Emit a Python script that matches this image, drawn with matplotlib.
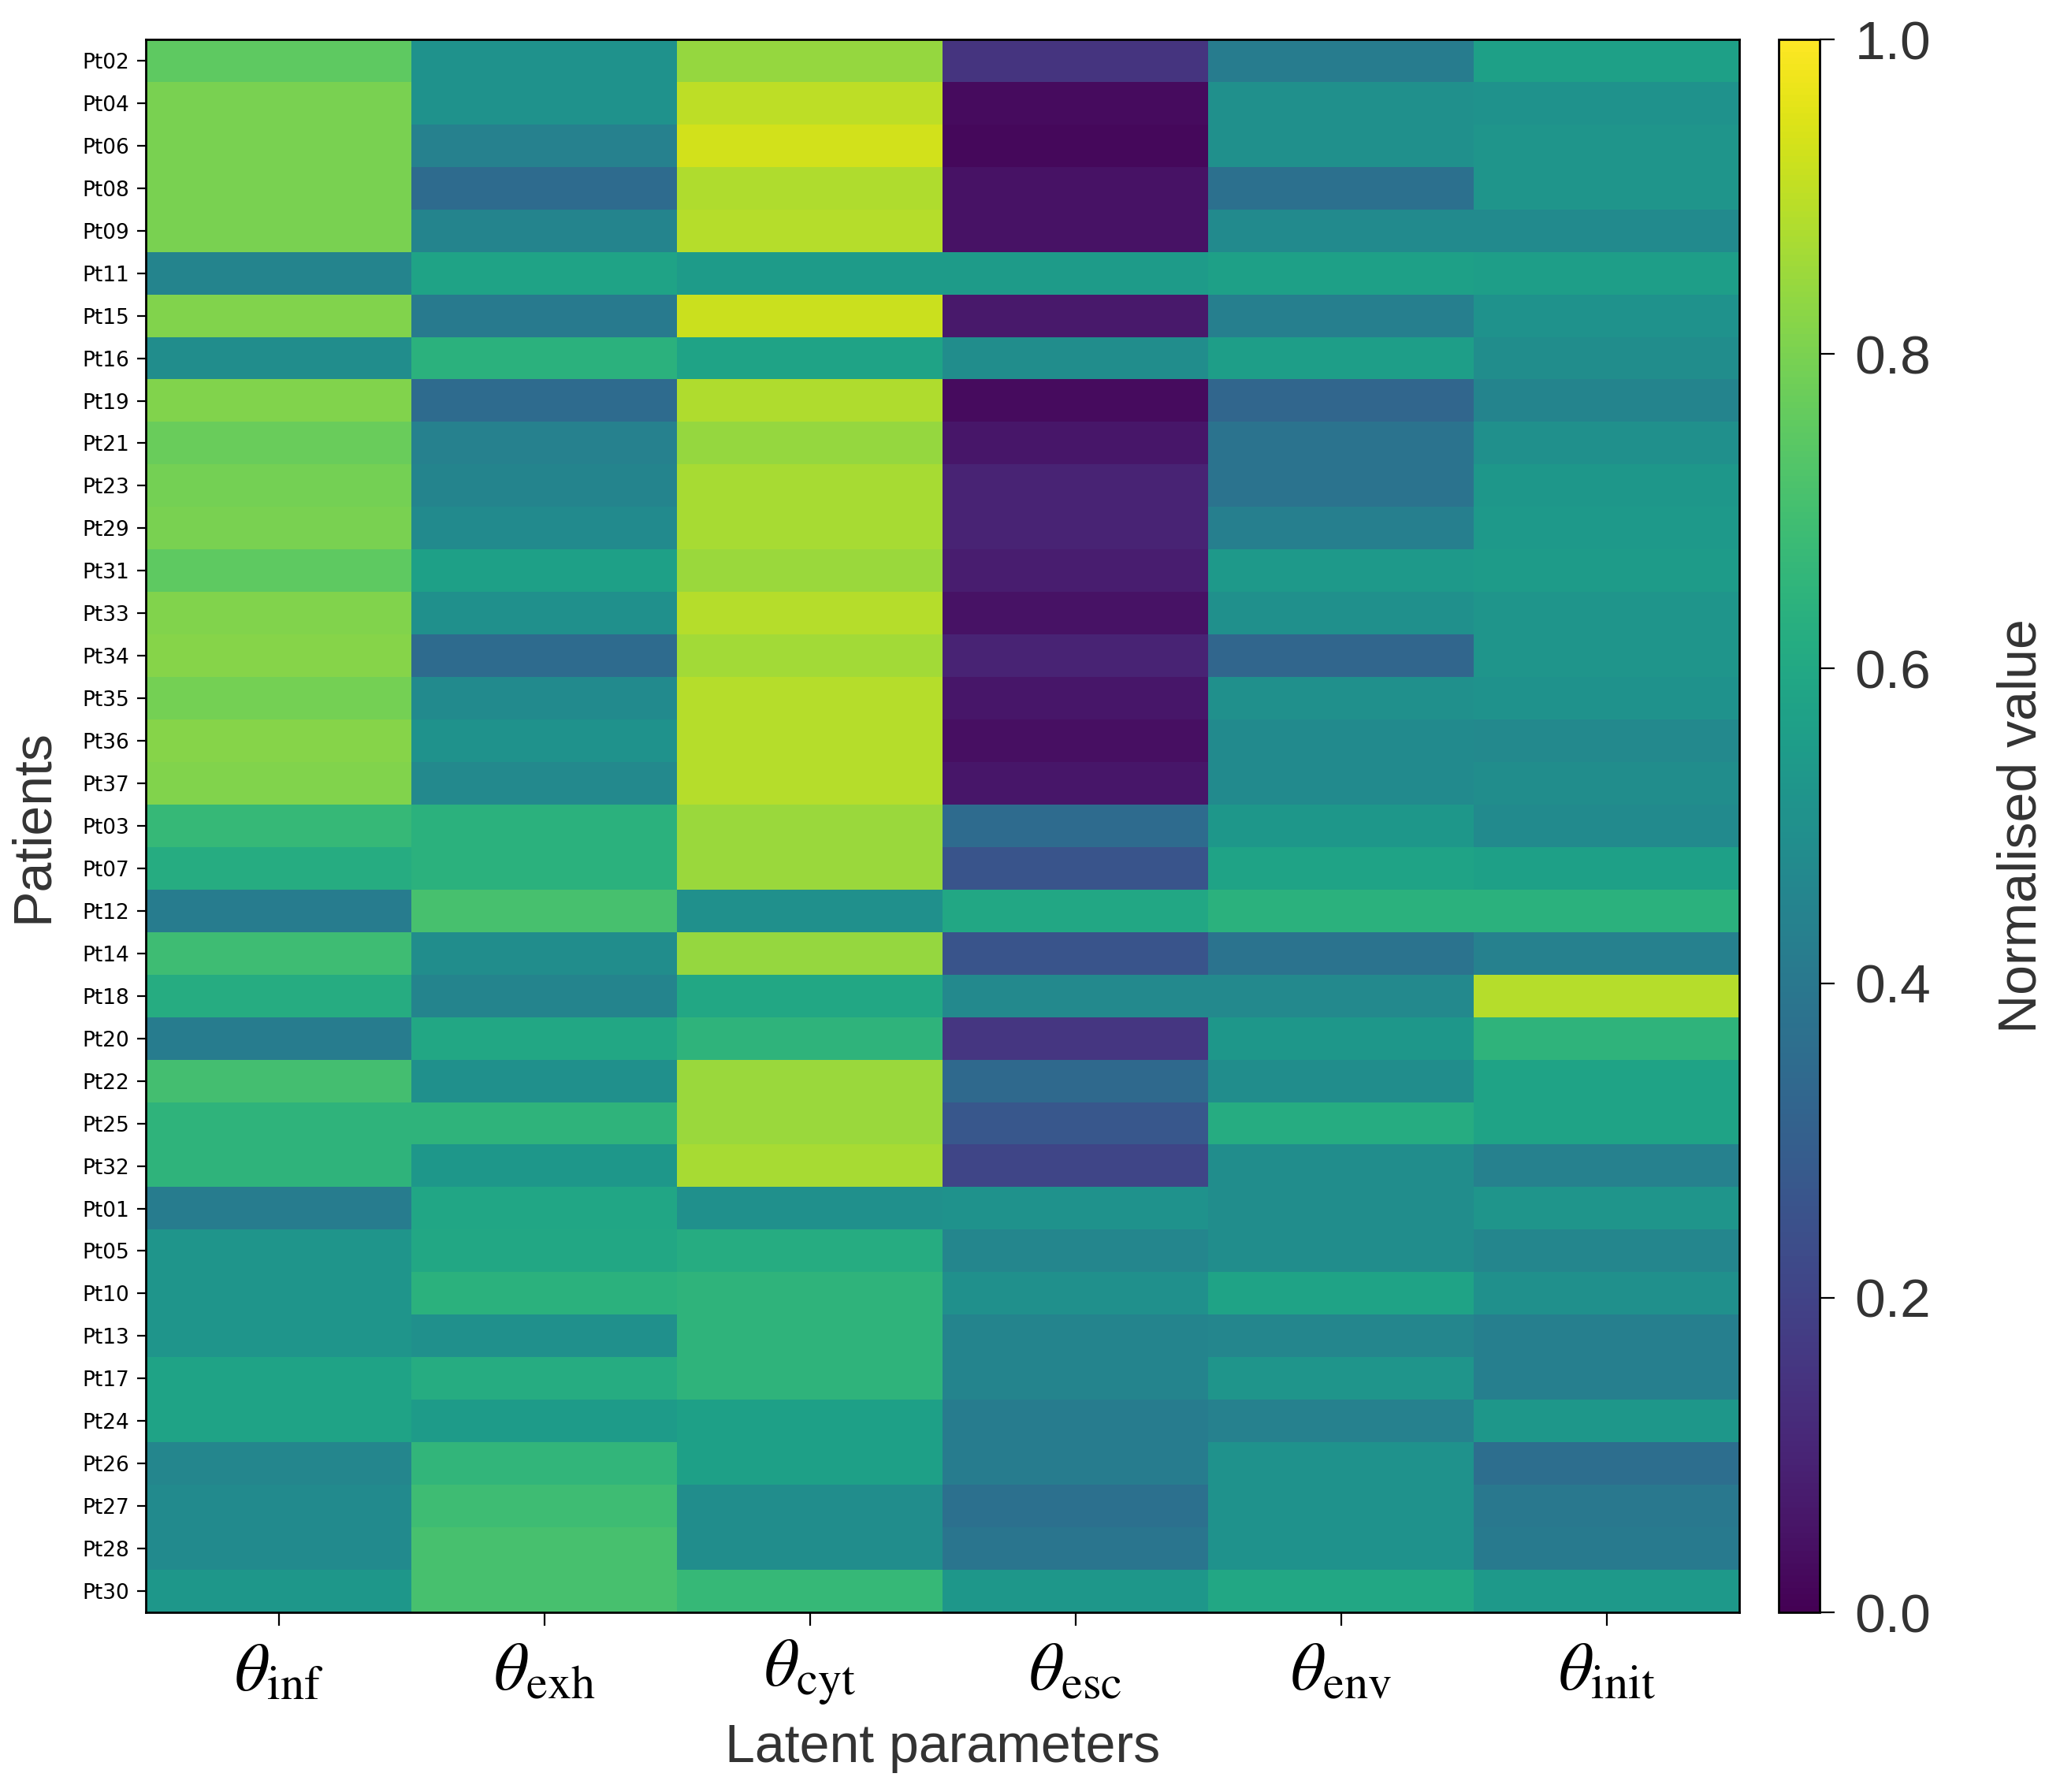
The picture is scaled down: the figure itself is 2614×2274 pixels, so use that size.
import numpy as np
import matplotlib
matplotlib.use("Agg")
import matplotlib.pyplot as plt

patients = ["Pt02", "Pt04", "Pt06", "Pt08", "Pt09", "Pt11", "Pt15", "Pt16", "Pt19",
            "Pt21", "Pt23", "Pt29", "Pt31", "Pt33", "Pt34", "Pt35", "Pt36", "Pt37",
            "Pt03", "Pt07", "Pt12", "Pt14", "Pt18", "Pt20", "Pt22", "Pt25", "Pt32",
            "Pt01", "Pt05", "Pt10", "Pt13", "Pt17", "Pt24", "Pt26", "Pt27", "Pt28", "Pt30"]

params = [r"$\theta_{\mathrm{inf}}$", r"$\theta_{\mathrm{exh}}$", r"$\theta_{\mathrm{cyt}}$",
          r"$\theta_{\mathrm{esc}}$", r"$\theta_{\mathrm{env}}$", r"$\theta_{\mathrm{init}}$"]

theta_inf = [0.75, 0.80, 0.80, 0.80, 0.80, 0.45, 0.81, 0.49, 0.81, 0.77, 0.79, 0.80, 0.75,
             0.81, 0.82, 0.79, 0.82, 0.81, 0.67, 0.62, 0.42, 0.69, 0.62, 0.42, 0.70, 0.65,
             0.65, 0.42, 0.52, 0.52, 0.52, 0.58, 0.58, 0.46, 0.48, 0.48, 0.53]
theta_exh = [0.51, 0.51, 0.44, 0.35, 0.45, 0.58, 0.41, 0.64, 0.35, 0.44, 0.45, 0.48, 0.57,
             0.50, 0.35, 0.48, 0.51, 0.47, 0.64, 0.64, 0.71, 0.49, 0.45, 0.60, 0.50, 0.65,
             0.53, 0.59, 0.60, 0.64, 0.50, 0.62, 0.55, 0.66, 0.69, 0.71, 0.71]
theta_cyt = [0.84, 0.90, 0.93, 0.88, 0.89, 0.55, 0.92, 0.58, 0.88, 0.84, 0.87, 0.87, 0.85,
             0.89, 0.86, 0.89, 0.89, 0.89, 0.85, 0.85, 0.50, 0.84, 0.60, 0.65, 0.85, 0.85,
             0.87, 0.50, 0.62, 0.65, 0.65, 0.65, 0.57, 0.57, 0.49, 0.49, 0.67]
theta_esc = [0.15, 0.03, 0.02, 0.05, 0.05, 0.55, 0.07, 0.49, 0.03, 0.06, 0.10, 0.10, 0.08,
             0.05, 0.10, 0.06, 0.04, 0.06, 0.35, 0.26, 0.60, 0.26, 0.47, 0.16, 0.34, 0.27,
             0.21, 0.51, 0.46, 0.50, 0.45, 0.45, 0.42, 0.42, 0.37, 0.39, 0.53]
theta_env = [0.42, 0.50, 0.50, 0.37, 0.48, 0.57, 0.43, 0.56, 0.33, 0.38, 0.38, 0.43, 0.54,
             0.50, 0.33, 0.50, 0.48, 0.48, 0.53, 0.58, 0.64, 0.38, 0.47, 0.53, 0.49, 0.62,
             0.49, 0.49, 0.49, 0.58, 0.46, 0.52, 0.44, 0.51, 0.51, 0.51, 0.60]
theta_init = [0.57, 0.51, 0.52, 0.52, 0.48, 0.56, 0.51, 0.49, 0.45, 0.50, 0.53, 0.54, 0.55,
              0.52, 0.52, 0.51, 0.47, 0.49, 0.48, 0.57, 0.64, 0.44, 0.89, 0.65, 0.58, 0.58,
              0.44, 0.52, 0.46, 0.50, 0.43, 0.43, 0.53, 0.36, 0.40, 0.41, 0.54]

data = np.column_stack([theta_inf, theta_exh, theta_cyt, theta_esc, theta_env, theta_init])

W, H = 2614, 2274
fig = plt.figure(figsize=(W / 200, H / 200), dpi=200)

ax = fig.add_axes([185 / W, 1 - 2046 / H, (2207 - 185) / W, (2046 - 50) / H])
im = ax.imshow(data, cmap="viridis", vmin=0, vmax=1, aspect="auto",
               interpolation="nearest")

ax.set_xticks(np.arange(len(params)))
ax.set_xticklabels(params, fontsize=31, math_fontfamily="stix")
ax.set_yticks(np.arange(len(patients)))
ax.set_yticklabels(patients, fontsize=9.5, family="DejaVu Sans")
ax.tick_params(axis="x", length=6, width=0.8, pad=6)
ax.tick_params(axis="y", length=4, width=0.8)
ax.set_xlabel("Latent parameters", fontsize=24.5, family="Liberation Sans", color="#333333",
              labelpad=7)
ax.set_ylabel("Patients", fontsize=24.5, family="Liberation Sans", color="#333333", labelpad=11)
for s in ax.spines.values():
    s.set_linewidth(1.0)

cax = fig.add_axes([2257 / W, 1 - 2046 / H, (2309 - 2257) / W, (2046 - 50) / H])
cb = fig.colorbar(im, cax=cax)
cb.set_ticks([0.0, 0.2, 0.4, 0.6, 0.8, 1.0])
cb.ax.tick_params(labelsize=25, length=7, width=0.8, pad=9, labelcolor="#333333")
for t in cb.ax.get_yticklabels():
    t.set_family("Liberation Sans")
cb.set_label("Normalised value", fontsize=24.5, family="Liberation Sans", color="#333333",
             labelpad=30)
cb.outline.set_linewidth(1.0)

fig.savefig("out.png", dpi=200)
